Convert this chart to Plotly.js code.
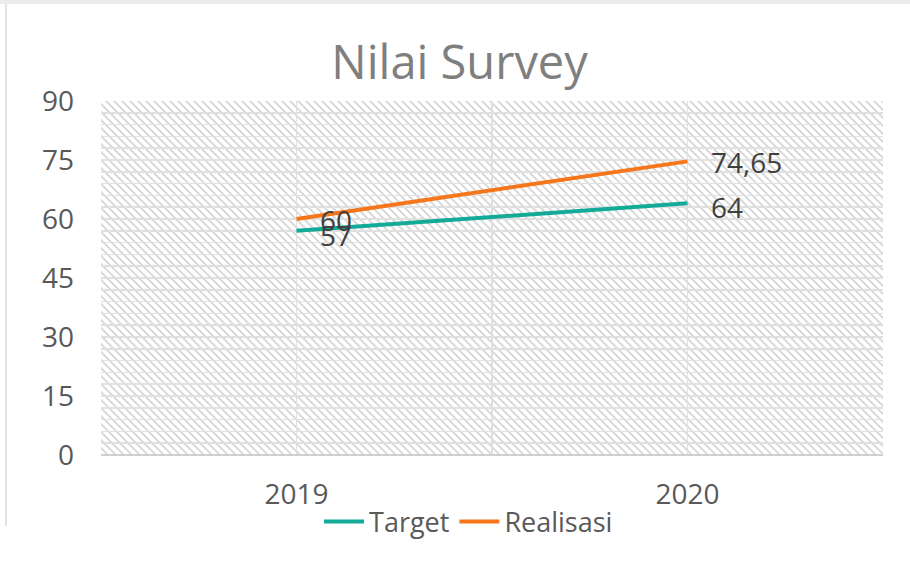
<!DOCTYPE html>
<html>
<head>
<meta charset="utf-8">
<script src="https://cdn.plot.ly/plotly-3.0.1.min.js"></script>
<style>
  html, body { margin:0; padding:0; background:#ffffff; }
  #wrap { position:relative; width:910px; height:563px; overflow:hidden; background:#ffffff; }
  #topband { position:absolute; left:0; top:0; width:910px; height:4px; background:#ececec; }
  #leftline { position:absolute; left:5px; top:4px; width:2px; height:522px; background:#e3e3e3; }
  #hatch { position:absolute; left:101px; top:101px; width:782px; height:354px;
    background: repeating-linear-gradient(45deg, #ffffff 0px, #ffffff 3.6px, #dcdcdc 3.6px, #dcdcdc 5.66px); }
  #chart { position:absolute; left:0; top:0; width:910px; height:563px; }
</style>
</head>
<body>
<div id="wrap">
  <div id="topband"></div>
  <div id="leftline"></div>
  <div id="hatch"></div>
  <div id="chart"></div>
</div>
<script>
// ---- data ----
const categories = ["2019", "2020"];
const target = [57, 64];
const realisasi = [60, 74.65];
const seriesNames = ["Target", "Realisasi"];
const yTicks = [0, 15, 30, 45, 60, 75, 90];

const colors = ["#13ab97", "#f5761b"];
const xIdx = categories.map((c, i) => i);
const fmt = v => String(v).replace(".", ",");

const seriesVals = [target, realisasi];
const traces = seriesVals.map((vals, s) => ({
  type: "scatter",
  mode: "lines",
  name: seriesNames[s],
  x: xIdx,
  y: vals,
  line: { color: colors[s], width: 4 },
  hoverinfo: "skip"
}));

const labelShift = [-4, -1];
const annotations = [];
seriesVals.forEach((vals, s) => {
  vals.forEach((v, i) => {
    annotations.push({
      x: xIdx[i], y: v, xref: "x", yref: "y",
      text: fmt(v), showarrow: false,
      xanchor: "left", yanchor: "middle",
      xshift: 21, yshift: labelShift[s],
      font: { family: "Open Sans", size: 28, color: "#404040" }
    });
  });
});

const gridColor = "#e0e0e0";
const fontFam = "Open Sans";

const xTickVals = [-0.5, 0, 0.5, 1, 1.5];
const xTickText = ["", categories[0], "", categories[1], ""];

const layout = {
  width: 910, height: 563,
  margin: { l: 101, r: 27, t: 101, b: 108, pad: 0 },
  paper_bgcolor: "rgba(0,0,0,0)",
  plot_bgcolor: "rgba(0,0,0,0)",
  title: {
    text: "Nilai Survey",
    font: { family: fontFam, size: 47, color: "#7f7f7f" },
    x: 0.505, xanchor: "center",
    y: 1 - 63 / 563, yanchor: "middle", yref: "container"
  },
  showlegend: true,
  legend: {
    orientation: "h",
    x: 0.47, xanchor: "center",
    y: 1 - 522 / 563, yanchor: "middle", yref: "container",
    font: { family: fontFam, size: 27, color: "#595959" },
    itemwidth: 40,
    bgcolor: "rgba(0,0,0,0)"
  },
  xaxis: {
    type: "linear",
    range: [-0.5, 1.5],
    tickvals: xTickVals,
    ticktext: xTickText,
    showgrid: true, gridcolor: gridColor, gridwidth: 1.5,
    zeroline: false,
    showline: false,
    ticks: "",
    ticklabelstandoff: 20,
    tickfont: { family: fontFam, size: 28, color: "#595959" },
    fixedrange: true
  },
  yaxis: {
    range: [0, 90],
    tickvals: yTicks,
    showgrid: true, gridcolor: gridColor, gridwidth: 1.5,
    minor: { dtick: 3, tick0: 0, showgrid: true, gridcolor: gridColor, gridwidth: 1.5, ticks: "" },
    zeroline: true, zerolinecolor: "#d0d0d0", zerolinewidth: 2,
    showline: false,
    ticks: "",
    ticklabelstandoff: 26,
    tickfont: { family: fontFam, size: 28, color: "#595959" },
    fixedrange: true
  },
  annotations: annotations
};

Plotly.newPlot("chart", traces, layout, { staticPlot: true, displayModeBar: false });
</script>
</body>
</html>
